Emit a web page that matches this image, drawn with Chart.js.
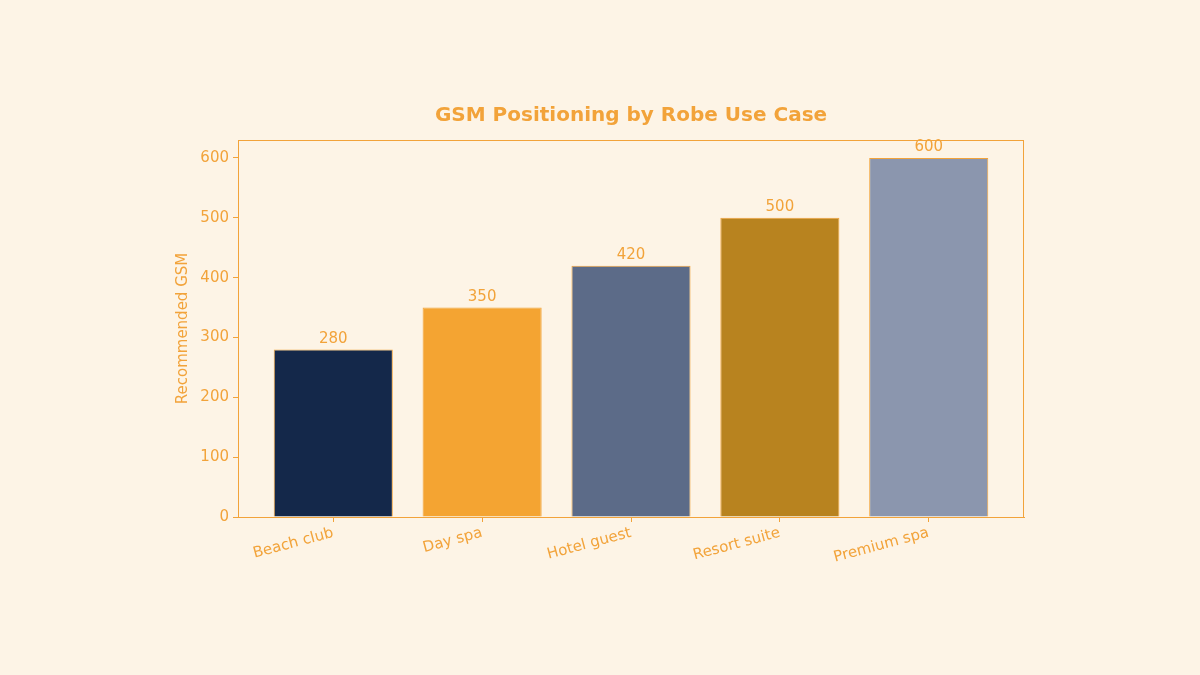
<!DOCTYPE html>
<html>
<head>
<meta charset="utf-8">
<script src="https://cdn.jsdelivr.net/npm/chart.js@4"></script>
<style>
  html, body { margin: 0; padding: 0; background: #fdf4e6; }
  #wrap { width: 1200px; height: 675px; }
</style>
</head>
<body>
<div id="wrap"><canvas id="myChart" width="1200" height="675"></canvas></div>
<script>
// données du graphique
const categories = ['Beach club', 'Day spa', 'Hotel guest', 'Resort suite', 'Premium spa'];
const gsmValues = [280, 350, 420, 500, 600];
const yTicks = [0, 100, 200, 300, 400, 500, 600];
const barColors = ['#14284a', '#f4a432', '#5c6b88', '#b8831f', '#8b96ae'];
const chartTitle = 'GSM Positioning by Robe Use Case';

const accent = '#f2a33a';
const fontFamily = '"DejaVu Sans", sans-serif';

// titre, cadre autour de la zone du graphique + valeurs au-dessus des barres
const framePlugin = {
    id: 'frame',
    afterDatasetsDraw(chart) {
        const ctx = chart.ctx;
        const a = chart.chartArea;
        ctx.save();
        ctx.strokeStyle = accent;
        ctx.lineWidth = 1;
        ctx.strokeRect(a.left + 0.5, a.top + 0.5, a.right - a.left - 1, a.bottom - a.top);

        ctx.fillStyle = accent;
        ctx.font = 'bold 20px ' + fontFamily;
        ctx.textAlign = 'center';
        ctx.textBaseline = 'middle';
        ctx.fillText(chartTitle, (a.left + a.right) / 2, 116);

        ctx.font = '15px ' + fontFamily;
        ctx.textBaseline = 'bottom';
        chart.getDatasetMeta(0).data.forEach((bar, i) => {
            ctx.fillText(String(gsmValues[i]), bar.x, bar.y - 3);
        });
        ctx.restore();
    }
};

const data = {
    datasets: [{
        data: gsmValues.map((v, i) => ({ x: i, y: v })),
        backgroundColor: barColors,
        borderColor: accent,
        borderWidth: 1,
        categoryPercentage: 0.8,
        barPercentage: 1
    }]
};

const config = {
    type: 'bar',
    data,
    options: {
        responsive: false,
        animation: false,
        layout: { padding: { left: 170, right: 176, top: 140, bottom: 0 } },
        plugins: {
            legend: { display: false },
            tooltip: { enabled: false },
            title: { display: false }
        },
        scales: {
            x: {
                type: 'linear',
                min: -0.64,
                max: 4.64,
                offset: false,
                afterBuildTicks(scale) {
                    scale.ticks = categories.map((c, i) => ({ value: i }));
                },
                afterFit(scale) { scale.height = 158; },
                grid: { offset: false, drawOnChartArea: false, color: accent, tickLength: 5, tickColor: accent },
                border: { display: true, color: accent },
                ticks: {
                    color: accent,
                    font: { family: fontFamily, size: 15 },
                    minRotation: 15,
                    maxRotation: 15,
                    autoSkip: false,
                    padding: 2,
                    callback: (value) => categories[value] ?? ''
                }
            },
            y: {
                min: 0,
                max: 630,
                afterBuildTicks(scale) {
                    scale.ticks = yTicks.map(v => ({ value: v }));
                },
                afterFit(scale) { scale.width = 68; },
                grid: { drawOnChartArea: false, color: accent, tickLength: 5, tickColor: accent },
                border: { display: true, color: accent },
                ticks: {
                    color: accent,
                    font: { family: fontFamily, size: 15 },
                    padding: 4
                },
                title: {
                    display: true,
                    text: 'Recommended GSM',
                    color: accent,
                    font: { family: fontFamily, size: 15, lineHeight: 1.2 },
                    padding: { top: 4, bottom: 0 }
                }
            }
        }
    },
    plugins: [framePlugin]
};

const mychart = new Chart(document.getElementById('myChart'), config);
</script>
</body>
</html>
